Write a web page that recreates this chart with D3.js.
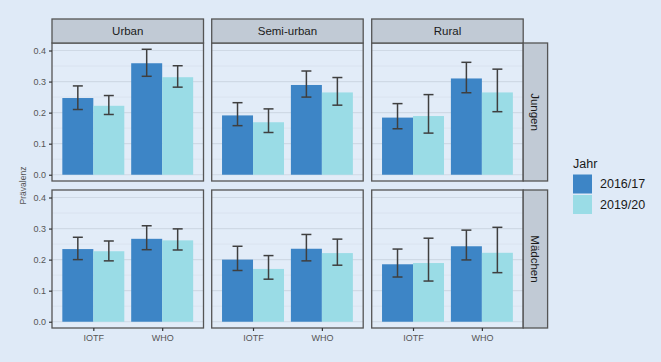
<!DOCTYPE html>
<html>
<head>
<meta charset="utf-8">
<script src="https://cdn.jsdelivr.net/npm/d3@7"></script>
<style>
  body { margin: 0; background: #dfeaf7; }
  svg { display: block; font-family: "Liberation Sans", Arial, sans-serif; }
</style>
</head>
<body>
<div id="chart"></div>
<script>
const width = 661, height = 362;

const areas = ["Urban", "Semi-urban", "Rural"];
const sexes = ["Jungen", "Mädchen"];
const refs = ["IOTF", "WHO"];
const years = ["2016/17", "2019/20"];
const yTicks = [0, 0.1, 0.2, 0.3, 0.4];

// [estimate, lower, upper], order: Urban IOTF, Urban WHO, Semi-urban IOTF, Semi-urban WHO, Rural IOTF, Rural WHO
const jungen2016 = [[0.247, 0.210, 0.286], [0.359, 0.317, 0.404], [0.191, 0.158, 0.232], [0.289, 0.250, 0.334], [0.184, 0.148, 0.229], [0.310, 0.264, 0.362]];
const jungen2019 = [[0.222, 0.194, 0.255], [0.314, 0.282, 0.351], [0.169, 0.136, 0.212], [0.265, 0.224, 0.313], [0.189, 0.134, 0.258], [0.265, 0.203, 0.340]];
const maedchen2016 = [[0.234, 0.200, 0.272], [0.267, 0.232, 0.309], [0.200, 0.165, 0.243], [0.235, 0.196, 0.281], [0.185, 0.144, 0.234], [0.243, 0.199, 0.295]];
const maedchen2019 = [[0.227, 0.196, 0.260], [0.262, 0.231, 0.299], [0.170, 0.137, 0.213], [0.221, 0.182, 0.266], [0.189, 0.131, 0.269], [0.222, 0.158, 0.304]];

const colors = { "2016/17": "#3d85c6", "2019/20": "#9adce6" };

// flatten into rows
const rows = [];
[[jungen2016, jungen2019], [maedchen2016, maedchen2019]].forEach((pair, si) => {
    pair.forEach((arr, yi) => {
        arr.forEach((v, k) => {
            rows.push({
                sex: sexes[si], area: areas[Math.floor(k / 2)], ref: refs[k % 2],
                year: years[yi], est: v[0], lo: v[1], hi: v[2]
            });
        });
    });
});

const colX = [52, 211.7, 371.7], panelW = 151.5;
const rowY = [43, 190], panelH = 138;
const stripH = 24, stripW = 24.4;

const svg = d3.select("#chart").append("svg")
    .attr("width", width).attr("height", height);

svg.append("rect").attr("width", width).attr("height", height).attr("fill", "#dfeaf7");

const y = d3.scaleLinear().domain([-0.0202, 0.4242]).range([panelH, 0]);
const x = d3.scaleLinear().domain([0.4, 2.6]).range([0, panelW]);
const barW = x(0.45) - x(0);
const capW = 10;

sexes.forEach((sex, ri) => {
    areas.forEach((area, ci) => {
        const g = svg.append("g").attr("transform", `translate(${colX[ci]},${rowY[ri]})`);

        g.append("rect").attr("width", panelW).attr("height", panelH).attr("fill", "#e2ecf8");

        // minor grid
        g.selectAll(".minor").data([0.05, 0.15, 0.25, 0.35]).join("line")
            .attr("x1", 0).attr("x2", panelW)
            .attr("y1", d => y(d)).attr("y2", d => y(d))
            .attr("stroke", "#d3dde9").attr("stroke-width", 0.6);
        g.selectAll(".major").data(yTicks).join("line")
            .attr("x1", 0).attr("x2", panelW)
            .attr("y1", d => y(d)).attr("y2", d => y(d))
            .attr("stroke", "#cfd9e5").attr("stroke-width", 1.2);

        const data = rows.filter(d => d.sex === sex && d.area === area);

        g.selectAll(".bar").data(data).join("rect")
            .attr("x", d => x(refs.indexOf(d.ref) + 1) + (d.year === years[0] ? -barW : 0))
            .attr("y", d => y(d.est))
            .attr("width", barW)
            .attr("height", d => y(0) - y(d.est))
            .attr("fill", d => colors[d.year]);

        const eb = g.selectAll(".eb").data(data).join("g")
            .attr("transform", d => `translate(${x(refs.indexOf(d.ref) + 1) + (d.year === years[0] ? -barW / 2 : barW / 2)},0)`)
            .attr("stroke", "#3f3f3f").attr("stroke-width", 1.5);
        eb.append("line").attr("y1", d => y(d.lo)).attr("y2", d => y(d.hi));
        eb.append("line").attr("x1", -capW / 2).attr("x2", capW / 2).attr("y1", d => y(d.lo)).attr("y2", d => y(d.lo));
        eb.append("line").attr("x1", -capW / 2).attr("x2", capW / 2).attr("y1", d => y(d.hi)).attr("y2", d => y(d.hi));

        g.append("rect").attr("width", panelW).attr("height", panelH)
            .attr("fill", "none").attr("stroke", "#555").attr("stroke-width", 1.3);

        // y axis on first column
        if (ci === 0) {
            const ax = g.append("g").call(d3.axisLeft(y).tickValues(yTicks).tickFormat(d3.format(".1f")).tickSize(3).tickPadding(3));
            ax.select(".domain").remove();
            ax.selectAll("line").attr("stroke", "#333").attr("stroke-width", 1.2);
            ax.selectAll("text").attr("fill", "#555").style("font-size", "9px");
        }
        // x axis on bottom row
        if (ri === sexes.length - 1) {
            const ax = g.append("g").attr("transform", `translate(0,${panelH})`)
                .call(d3.axisBottom(x).tickValues([1, 2]).tickFormat(d => refs[d - 1]).tickSize(3).tickPadding(4));
            ax.select(".domain").remove();
            ax.selectAll("line").attr("stroke", "#333").attr("stroke-width", 1.2);
            ax.selectAll("text").attr("fill", "#555").style("font-size", "9px");
        }
        // top strips
        if (ri === 0) {
            g.append("rect").attr("y", -stripH).attr("width", panelW).attr("height", stripH)
                .attr("fill", "#c1cad5").attr("stroke", "#555").attr("stroke-width", 1.3);
            g.append("text").attr("x", panelW / 2).attr("y", -stripH / 2).attr("dy", "0.35em")
                .attr("text-anchor", "middle").style("font-size", "11.5px").attr("fill", "#1a1a1a").text(area);
        }
        // right strips
        if (ci === areas.length - 1) {
            g.append("rect").attr("x", panelW).attr("width", stripW).attr("height", panelH)
                .attr("fill", "#c1cad5").attr("stroke", "#555").attr("stroke-width", 1.3);
            g.append("text")
                .attr("transform", `translate(${panelW + stripW / 2},${panelH / 2}) rotate(90)`)
                .attr("dy", "0.35em").attr("text-anchor", "middle")
                .style("font-size", "11.5px").attr("fill", "#1a1a1a").text(sex);
        }
    });
});

// y axis title
svg.append("text")
    .attr("transform", `translate(23,${(rowY[0] + rowY[1] + panelH) / 2}) rotate(-90)`)
    .attr("dy", "0.35em").attr("text-anchor", "middle")
    .style("font-size", "8.5px").attr("fill", "#555").text("Prävalenz");

// legend
const legend = svg.append("g").attr("transform", "translate(573,0)");
legend.append("text").attr("x", 0).attr("y", 168).style("font-size", "12.5px").attr("fill", "#1a1a1a").text("Jahr");
years.forEach((yr, i) => {
    legend.append("rect").attr("x", 0).attr("y", 174.5 + i * 20.5).attr("width", 19).attr("height", 19).attr("fill", colors[yr]);
    legend.append("text").attr("x", 27).attr("y", 184 + i * 20.5).attr("dy", "0.35em")
        .style("font-size", "12.5px").attr("fill", "#1a1a1a").text(yr);
});
</script>
</body>
</html>
